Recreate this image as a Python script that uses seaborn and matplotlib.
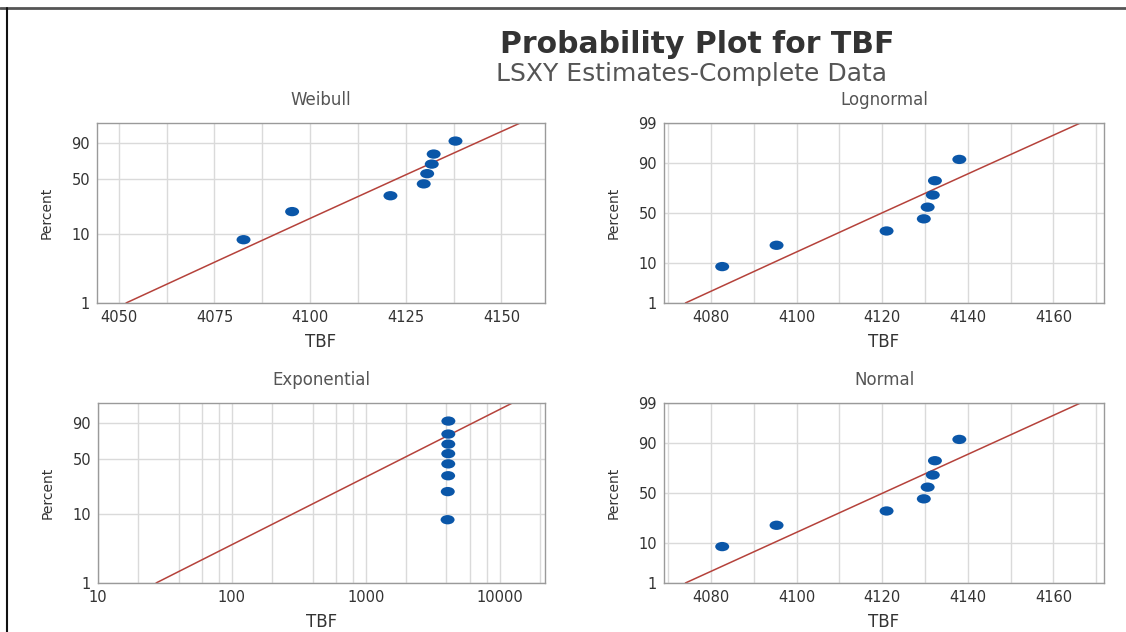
import numpy as np
import pandas as pd
import seaborn as sns
import matplotlib
matplotlib.use("Agg")
import matplotlib.pyplot as plt
from matplotlib import font_manager
from matplotlib.markers import MarkerStyle
from matplotlib.transforms import Affine2D
from matplotlib.lines import Line2D
from statistics import NormalDist

# ---------------- data ----------------
tbf = [4082.6, 4095.3, 4121.0, 4129.7, 4130.6, 4131.8, 4132.3, 4138.0]
percent = [8.3, 20.2, 32.1, 44.0, 56.0, 67.9, 79.8, 91.7]

# fitted parameters (LSXY)
weib_shape, weib_scale = 244.0, 4129.0
logn_loc, logn_scale = 8.32358, 0.004814
expo_mean = 2700.0
norm_mean, norm_sd = 4120.15, 19.84

panel_titles = ["Weibull", "Lognormal", "Exponential", "Normal"]
title = "Probability Plot for TBF"
subtitle = "LSXY Estimates-Complete Data"

# ---------------- style ----------------
sns.set_theme(style="white")
plt.rcParams["font.family"] = ["DejaVu Sans"]


def _has_font(fam):
    try:
        font_manager.findfont(font_manager.FontProperties(family=fam),
                              fallback_to_default=False)
        return True
    except Exception:
        return False


if _has_font("Liberation Sans Narrow"):
    ylab_family, ylab_size = ["Liberation Sans Narrow", "DejaVu Sans"], 12
elif _has_font("DejaVu Sans Condensed"):
    ylab_family, ylab_size = ["DejaVu Sans Condensed", "DejaVu Sans"], 10.5
else:
    ylab_family, ylab_size = ["DejaVu Sans"], 10

ND = NormalDist()
_ppf = np.vectorize(lambda q: ND.inv_cdf(q), otypes=[float])
_cdf = np.vectorize(lambda z: ND.cdf(z), otypes=[float])


def norm_fwd(p):
    p = np.clip(np.asarray(p, float) / 100.0, 1e-9, 1 - 1e-9)
    return _ppf(p)


def norm_inv(z):
    return _cdf(np.asarray(z, float)) * 100.0


def weib_fwd(p):
    p = np.clip(np.asarray(p, float) / 100.0, 1e-9, 1 - 1e-9)
    return np.log(-np.log(1 - p))


def weib_inv(y):
    return 100.0 * (1 - np.exp(-np.exp(np.asarray(y, float))))


pgrid = np.linspace(1, 99, 400)
q = pgrid / 100.0
zq = _ppf(q)
fit_lines = {
    "Weibull": weib_scale * (-np.log(1 - q)) ** (1 / weib_shape),
    "Lognormal": np.exp(logn_loc + logn_scale * zq),
    "Exponential": -expo_mean * np.log(1 - q),
    "Normal": norm_mean + norm_sd * zq,
}

W, H = 1126, 632
fig = plt.figure(figsize=(W / 100, H / 100), dpi=100)
fig.patch.set_facecolor("white")


def px_axes(l, t, r, b):
    return fig.add_axes([l / W, 1 - b / H, (r - l) / W, (b - t) / H])


boxes = {
    "Weibull": (97, 123, 545, 303),
    "Lognormal": (664, 123, 1104, 303),
    "Exponential": (98, 403, 545, 583),
    "Normal": (664, 403, 1104, 583),
}

pt_color = "#0a56a8"
line_color = "#b5423b"
grid_color = "#dadada"
spine_color = "#9a9a9a"
marker = MarkerStyle("o", transform=Affine2D().scale(1.5, 1.0))

for name in panel_titles:
    ax = px_axes(*boxes[name])
    df_pts = pd.DataFrame({"TBF": tbf, "Percent": percent})
    df_line = pd.DataFrame({"TBF": fit_lines[name], "Percent": pgrid})

    if name in ("Weibull", "Exponential"):
        ax.set_yscale("function", functions=(weib_fwd, weib_inv))
        yt = [1, 10, 50, 90]
    else:
        ax.set_yscale("function", functions=(norm_fwd, norm_inv))
        yt = [1, 10, 50, 90, 99]

    if name == "Exponential":
        ax.set_xscale("log")

    sns.lineplot(data=df_line, x="TBF", y="Percent", ax=ax, color=line_color,
                 lw=1.1, sort=False, estimator=None)
    sns.scatterplot(data=df_pts, x="TBF", y="Percent", ax=ax, color=pt_color,
                    marker=marker, s=45, edgecolor="none", zorder=3)

    if name == "Exponential":
        ax.set_xlim(10, 21800)
        ax.set_xticks([10, 100, 1000, 10000])
        ax.set_xticklabels(["10", "100", "1000", "10000"])
        minors = [m * 10 ** d for d in range(1, 5) for m in (2, 4, 6, 8)]
        minors = [v for v in minors if v < 21800]
        ax.set_xticks(minors, minor=True)
        ax.xaxis.set_minor_formatter(matplotlib.ticker.NullFormatter())
    elif name == "Weibull":
        ax.set_xlim(4044.3, 4161.4)
        ax.set_xticks([4050, 4075, 4100, 4125, 4150])
        ax.set_xticks([4062.5, 4087.5, 4112.5, 4137.5], minor=True)
    else:
        ax.set_xlim(4069, 4171.8)
        ax.set_xticks([4080, 4100, 4120, 4140, 4160])
        ax.set_xticks([4070, 4090, 4110, 4130, 4150, 4170], minor=True)

    ax.set_ylim(1, 99)
    ax.set_yticks(yt)
    ax.set_yticklabels([str(v) for v in yt])
    ax.yaxis.set_minor_locator(matplotlib.ticker.NullLocator())

    ax.grid(True, which="both", axis="x", color=grid_color, lw=1.0)
    ax.grid(True, which="major", axis="y", color=grid_color, lw=1.0)
    ax.set_axisbelow(True)

    for s in ax.spines.values():
        s.set_color(spine_color)
        s.set_linewidth(1.0)
    ax.tick_params(axis="both", which="major", length=3, width=0.8,
                   color=spine_color, labelsize=10.5, labelcolor="#333333", pad=2)
    ax.tick_params(axis="x", which="minor", length=0)

    ax.set_xlabel("TBF", fontsize=12, color="#333333", labelpad=6)
    ax.set_ylabel("Percent", fontsize=ylab_size, color="#333333", labelpad=13,
                  family=ylab_family)
    ax.set_title(name, fontsize=12, color="#555555", pad=13)

fig.text(697 / W, 1 - 53 / H, title, ha="center", va="baseline",
         fontsize=21.5, fontweight="bold", color="#333333")
fig.text(692 / W, 1 - 81.5 / H, subtitle, ha="center", va="baseline",
         fontsize=18, color="#555555")

# frame lines of the original window
fig.add_artist(Line2D([0, 1], [1 - 7.5 / H, 1 - 7.5 / H], color="#555555", lw=2,
                      transform=fig.transFigure))
fig.add_artist(Line2D([7 / W, 7 / W], [0, 1 - 7.5 / H], color="#111111", lw=1.5,
                      transform=fig.transFigure))

fig.savefig("out.png", dpi=100)
